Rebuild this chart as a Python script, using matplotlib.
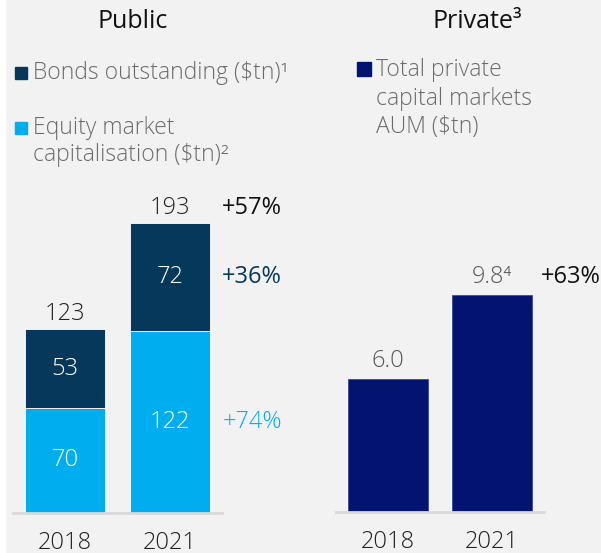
import numpy as np
import matplotlib
matplotlib.use('Agg')
import matplotlib.pyplot as plt
from matplotlib.patches import Rectangle

plt.rcParams['font.family'] = ['Open Sans', 'DejaVu Sans']

# data
years = ['2018', '2021']
equity = [70, 122]
bonds = [53, 72]
public_total = [123, 193]
public_growth = ['+57%', '+36%', '+74%']
private = [6.0, 9.8]
private_labels = ['6.0', '9.8\u2074']
private_growth = '+63%'

c_bond = '#05385b'
c_equity = '#00aeef'
c_private = '#021470'
bg = '#f2f2f2'
W, H = 601, 553
LW = 'light'

fig = plt.figure(figsize=(W / 100, H / 100), dpi=100, facecolor=bg)


def fx(x):
    return x / W


def fy(y):
    return 1 - y / H


def make_ax(left, right, base, top):
    ax = fig.add_axes([fx(left), fy(base), fx(right - left), (base - top) / H])
    ax.set_facecolor(bg)
    for s in ['top', 'right', 'left']:
        ax.spines[s].set_visible(False)
    ax.spines['bottom'].set_color('#d9d9d9')
    ax.spines['bottom'].set_linewidth(2)
    ax.set_yticks([])
    ax.tick_params(axis='x', length=0, pad=13, labelsize=17, labelcolor='#222222')
    ax.set_xlim(-0.5, 1.5)
    return ax


x = np.arange(len(years))
bw = 0.766

# public panel
ax1 = make_ax(13, 222, 512.7, 200)
ax1.set_ylim(0, 312.7 / 1.493)
ax1.bar(x, equity, bw, color=c_equity, edgecolor='white', linewidth=0.6)
ax1.bar(x, bonds, bw, bottom=equity, color=c_bond, edgecolor='white', linewidth=0.6)
ax1.set_xticks(x)
ax1.set_xticklabels(years, fontweight=LW)
for i in range(len(years)):
    ax1.text(x[i], equity[i] / 2, str(equity[i]), ha='center', va='center',
             color='white', fontsize=17, fontweight=LW)
    ax1.text(x[i], equity[i] + bonds[i] / 2, str(bonds[i]), ha='center', va='center',
             color='white', fontsize=17, fontweight=LW)
    ax1.annotate(str(public_total[i]), (x[i], equity[i] + bonds[i]), xytext=(0, 11),
                 textcoords='offset points', ha='center', va='center',
                 color='#222222', fontsize=17, fontweight=LW)
gx = 1.79
ax1.annotate(public_growth[0], (gx, equity[1] + bonds[1]), xytext=(0, 11),
             textcoords='offset points', ha='center', va='center',
             color='#111111', fontsize=17, annotation_clip=False)
ax1.text(gx, equity[1] + bonds[1] / 2, public_growth[1], ha='center', va='center',
         color=c_bond, fontsize=17)
ax1.text(gx, equity[1] / 2, public_growth[2], ha='center', va='center',
         color=c_equity, fontsize=17, fontweight=LW)

# private panel
ax2 = make_ax(335.7, 544, 512.3, 200)
ax2.set_ylim(0, 312.3 / 22.2)
ax2.bar(x, private, bw, color=c_private, edgecolor='#3a4a9a', linewidth=0.6)
ax2.set_xticks(x)
ax2.set_xticklabels(years, fontweight=LW)
for i in range(len(years)):
    ax2.annotate(private_labels[i], (x[i], private[i]), xytext=(0, 13),
                 textcoords='offset points', ha='center', va='center',
                 color='#595959', fontsize=17, fontweight=LW)
ax2.annotate(private_growth, (1.753, private[1]), xytext=(0, 13),
             textcoords='offset points', ha='center', va='center',
             color='#111111', fontsize=17, annotation_clip=False)

# titles
fig.text(fx(133), fy(22), 'Public', ha='center', va='center', fontsize=18, color='#111111')
fig.text(fx(477), fy(22), 'Private\u00b3', ha='center', va='center', fontsize=18, color='#111111')


# legends
def legend_box(x0, y0, size, color):
    fig.patches.append(Rectangle((fx(x0), fy(y0 + size)), size / W, size / H,
                                 transform=fig.transFigure, color=color))


txt = dict(va='center', fontsize=16.5, color='#6b6b6b', fontweight=LW)
legend_box(15, 67, 12, c_bond)
fig.text(fx(33), fy(73), 'Bonds outstanding ($tn)\u00b9', **txt)
legend_box(15, 122, 12, c_equity)
fig.text(fx(33), fy(128), 'Equity market', **txt)
fig.text(fx(33), fy(155), 'capitalisation ($tn)\u00b2', **txt)
legend_box(357, 62, 14, c_private)
fig.text(fx(376), fy(70), 'Total private', **txt)
fig.text(fx(376), fy(99), 'capital markets', **txt)
fig.text(fx(376), fy(127), 'AUM ($tn)', **txt)

fig.patches.append(Rectangle((0, 0), 5 / W, 1, transform=fig.transFigure, color='white'))

fig.savefig('out.png', dpi=100, facecolor=bg)
